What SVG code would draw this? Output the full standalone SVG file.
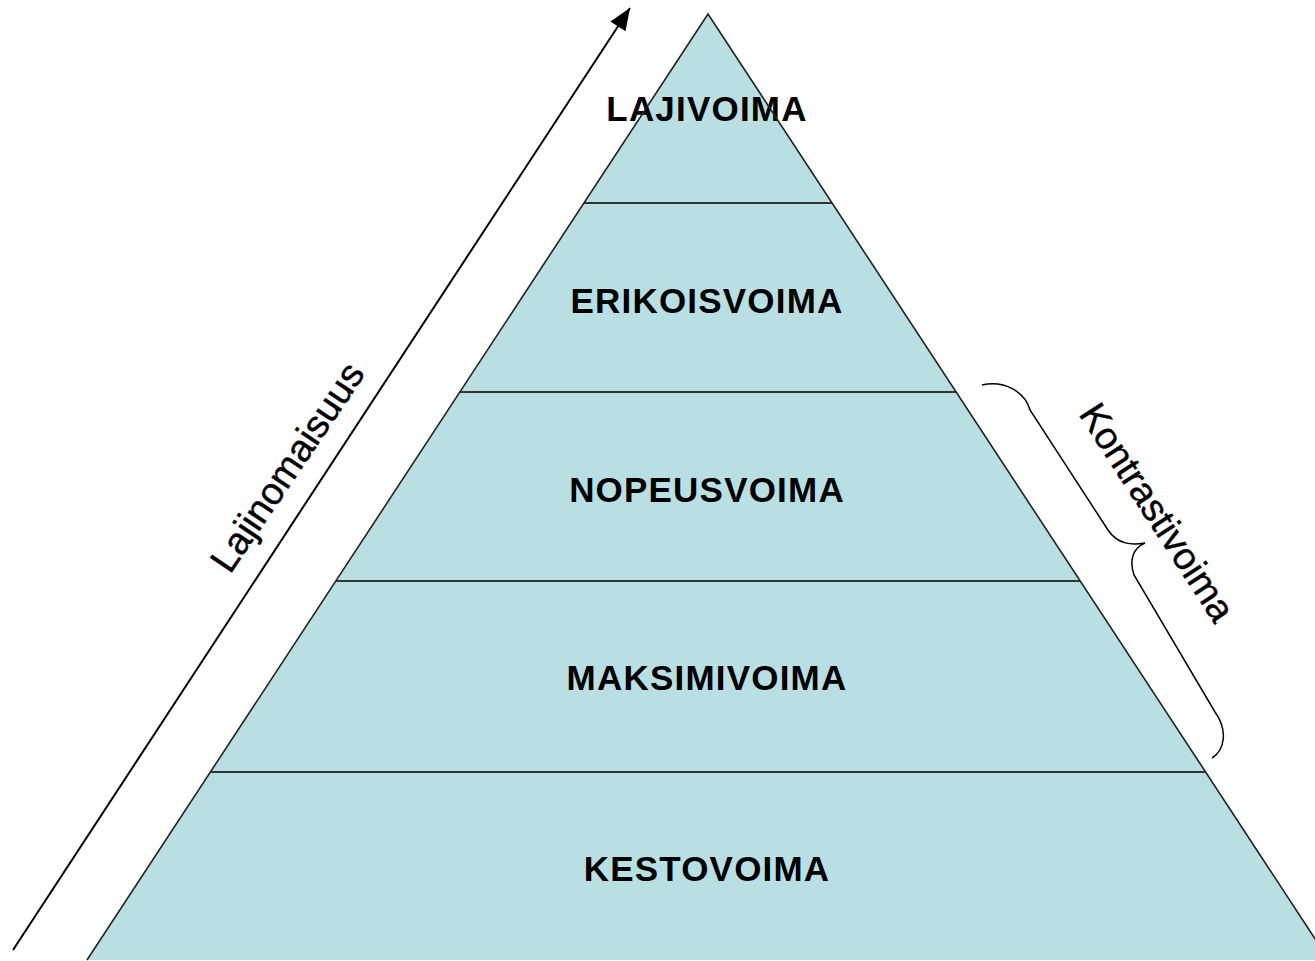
<svg xmlns="http://www.w3.org/2000/svg" width="1315" height="961" viewBox="0 0 1315 961">
  <style>
    .layer { fill: #badfe2; stroke: none; }
    .sep { stroke: #333; stroke-width: 2.2; fill: none; }
    .outline { stroke: #222; stroke-width: 1.6; fill: none; stroke-linejoin: miter; }
    .lbl { font-family: "Liberation Sans", Arial, sans-serif; font-weight: bold; font-size: 35px; letter-spacing: 1.2px; text-anchor: middle; fill: #000; }
    .side { font-family: "Liberation Sans", Arial, sans-serif; font-size: 38px; fill: #000; stroke: #000; stroke-width: 0.4; }
  </style>
  <defs>
    <marker id="arrowhead" markerUnits="userSpaceOnUse" markerWidth="24" markerHeight="18" refX="22" refY="9" orient="auto" overflow="visible">
      <path d="M0,0 L22,9 L0,18 Z" fill="#000"/>
    </marker>
  </defs>
  <rect width="1315" height="961" fill="#fff"/>

  <g id="lajivoima">
    <polygon class="layer" points="708,14 832.1,203 583.9,203"/>
    <text class="lbl" x="707" y="121">LAJIVOIMA</text>
  </g>
  <g id="erikoisvoima">
    <polygon class="layer" points="583.9,203 832.1,203 956.1,392 459.9,392"/>
    <text class="lbl" x="707" y="313">ERIKOISVOIMA</text>
  </g>
  <g id="nopeusvoima">
    <polygon class="layer" points="459.9,392 956.1,392 1080.2,581 335.8,581"/>
    <text class="lbl" x="707" y="502">NOPEUSVOIMA</text>
  </g>
  <g id="maksimivoima">
    <polygon class="layer" points="335.8,581 1080.2,581 1205.6,772 210.4,772"/>
    <text class="lbl" x="707" y="690">MAKSIMIVOIMA</text>
  </g>
  <g id="kestovoima">
    <polygon class="layer" points="210.4,772 1205.6,772 1329,960 87,960"/>
    <text class="lbl" x="707" y="881">KESTOVOIMA</text>
  </g>

  <g id="pyramid-lines">
    <line class="sep" x1="583.9" y1="203" x2="832.1" y2="203"/>
    <line class="sep" x1="459.9" y1="392" x2="956.1" y2="392"/>
    <line class="sep" x1="335.8" y1="581" x2="1080.2" y2="581"/>
    <line class="sep" x1="210.4" y1="772" x2="1205.6" y2="772"/>
    <polyline class="outline" points="87,960 708,14 1329,960"/>
  </g>

  <g id="connectors">
    <line x1="13" y1="950" x2="630" y2="8" stroke="#000" stroke-width="2" marker-end="url(#arrowhead)"/>
    <path d="M 982,385 C 1005,380 1025,392 1030,410 L 1108,530 C 1118,545 1132,545 1145,543 C 1133,548 1129,560 1134,575 L 1215,712 C 1228,730 1225,750 1212,758" stroke="#000" stroke-width="1.5" fill="none"/>
  </g>

  <g id="lajinomaisuus">
    <text class="side" transform="translate(230,575) rotate(-56)">Lajinomaisuus</text>
  </g>
  <g id="kontrastivoima">
    <text class="side" transform="translate(1078,414) rotate(57)">Kontrastivoima</text>
  </g>
</svg>
